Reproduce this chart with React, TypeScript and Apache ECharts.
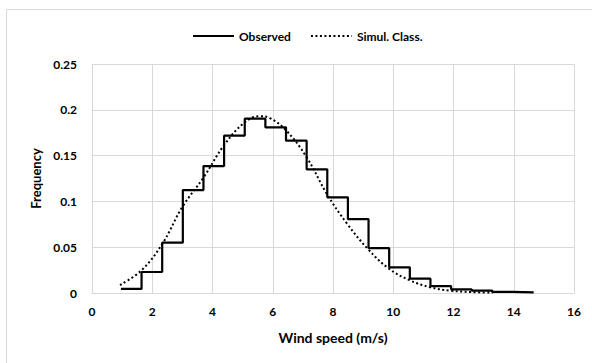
import React, { useEffect, useRef } from "react";
import * as echarts from "echarts";

const binEdges = [0.96, 1.645, 2.33, 3.015, 3.7, 4.385, 5.07, 5.755, 6.44, 7.125, 7.81, 8.495, 9.18, 9.865, 10.55, 11.235, 11.92, 12.605, 13.29, 13.975, 14.66];
const observed = [0.0044, 0.0229, 0.0549, 0.1124, 0.1386, 0.1718, 0.1903, 0.1809, 0.1663, 0.135, 0.1045, 0.0806, 0.049, 0.028, 0.0156, 0.0076, 0.004, 0.0025, 0.0012, 0.0007];
const simX = [0.93, 1.65, 2.34, 3.0, 3.7, 4.39, 5.06, 5.58, 5.9, 6.43, 7.11, 7.8, 8.46, 9.16, 9.84, 10.54, 11.23, 11.92, 12.6, 13.3];
const simY = [0.0087, 0.025, 0.054, 0.094, 0.126, 0.1616, 0.186, 0.193, 0.191, 0.178, 0.149, 0.108, 0.076, 0.048, 0.027, 0.014, 0.0062, 0.0025, 0.001, 0.0004];
const xTicks = { min: 0, max: 16, interval: 2 };
const yTicks = { min: 0, max: 0.25, interval: 0.05 };

const FONT = "Lato, 'Liberation Sans', sans-serif";
const GRID = "#d9d9d9";

export default function App() {
  const ref = useRef<HTMLDivElement>(null);
  useEffect(() => {
    if (!ref.current) return;
    const chart = echarts.init(ref.current, undefined, { renderer: "svg" });
    const obsData: number[][] = observed.map((v, i) => [binEdges[i], v]);
    obsData.push([binEdges[binEdges.length - 1], observed[observed.length - 1]]);
    const simData = simX.map((x, i) => [x, simY[i]]);
    chart.setOption({
      animation: false,
      backgroundColor: "#fff",
      textStyle: { fontFamily: FONT },
      graphic: [
        {
          type: "rect",
          shape: { x: 6.5, y: 9.5, width: 700, height: 500 },
          style: { fill: "none", stroke: GRID, lineWidth: 1 },
          silent: true,
        },
      ],
      legend: {
        left: 187,
        top: 25,
        itemWidth: 41,
        itemHeight: 14,
        itemGap: 19,
        itemStyle: { opacity: 0 },
        textStyle: { fontFamily: FONT, fontWeight: "bold", fontSize: 12, color: "#000" },
        data: ["Observed", "Simul. Class."],
      },
      grid: { left: 92, right: 18, top: 64, bottom: 70, containLabel: false },
      xAxis: {
        type: "value",
        ...xTicks,
        name: "Wind speed (m/s)",
        nameLocation: "middle",
        nameGap: 37,
        nameTextStyle: { fontFamily: FONT, fontWeight: "bold", fontSize: 14, color: "#000" },
        axisLine: { show: true, lineStyle: { color: GRID } },
        axisTick: { show: false },
        axisLabel: { fontFamily: FONT, fontWeight: "bold", fontSize: 12, color: "#000", margin: 12 },
        splitLine: { show: true, lineStyle: { color: GRID } },
      },
      yAxis: {
        type: "value",
        ...yTicks,
        name: "Frequency",
        nameLocation: "middle",
        nameGap: 47,
        nameTextStyle: { fontFamily: FONT, fontWeight: "bold", fontSize: 13, color: "#000" },
        axisLine: { show: false },
        axisTick: { show: false },
        axisLabel: { fontFamily: FONT, fontWeight: "bold", fontSize: 12, color: "#000", margin: 15 },
        splitLine: { show: true, lineStyle: { color: GRID } },
      },
      series: [
        {
          name: "Observed",
          type: "line",
          step: "end",
          data: obsData,
          symbol: "none",
          lineStyle: { color: "#000", width: 2.2 },
          itemStyle: { color: "#000" },
        },
        {
          name: "Simul. Class.",
          type: "line",
          smooth: 0.4,
          data: simData,
          symbol: "none",
          lineStyle: { color: "#000", width: 2, type: [2, 2.5] },
          itemStyle: { color: "#000" },
        },
      ],
    });
    return () => chart.dispose();
  }, []);
  return (
    <div
      ref={ref}
      style={{ position: "fixed", left: 0, top: 0, width: 592, height: 363 }}
    />
  );
}
